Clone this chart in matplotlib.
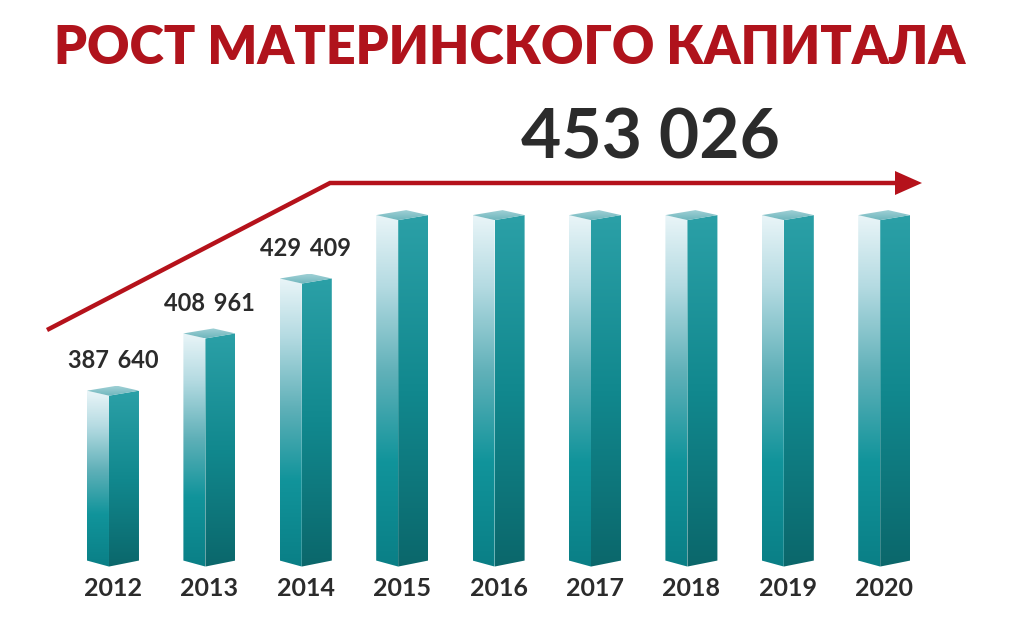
import matplotlib
matplotlib.use("Agg")
import matplotlib.pyplot as plt
import numpy as np
from matplotlib.colors import LinearSegmentedColormap
from matplotlib.patches import Polygon
import matplotlib.transforms as mtransforms

# ---- data ----
years = ["2012", "2013", "2014", "2015", "2016", "2017", "2018", "2019", "2020"]
values = [387640, 408961, 429409, 453026, 453026, 453026, 453026, 453026, 453026]
labeled = [True, True, True, False, False, False, False, False, False]
title = "РОСТ МАТЕРИНСКОГО КАПИТАЛА"

# ---- scales ----
W, H = 1024, 631
Y_MIN, Y_MAX = 300000, 535000
BASE = 324000
X_MIN, X_MAX = -1.172, 9.45

fig = plt.figure(figsize=(W / 100, H / 100), dpi=100)
fig.patch.set_facecolor("white")
ax = fig.add_axes([0, 0, 1, 1])
ax.set_xlim(X_MIN, X_MAX)
ax.set_ylim(Y_MIN, Y_MAX)
ax.axis("off")

px_x = (X_MAX - X_MIN) / W   # data units per pixel (x)
px_y = (Y_MAX - Y_MIN) / H   # data units per pixel (y)

left_cmap = LinearSegmentedColormap.from_list(
    "l", [(0.0, "#0a7f86"), (0.3, "#11949b"), (0.55, "#5fb0b8"), (0.8, "#b5dbe2"), (1.0, "#e9f5f8")])
right_cmap = LinearSegmentedColormap.from_list(
    "r", [(0.0, "#0b676b"), (0.5, "#11888e"), (1.0, "#2ba0a7")])
top_cmap = LinearSegmentedColormap.from_list("t", ["#6fb6bd", "#9fd0d5"])

grad = np.linspace(0, 1, 256).reshape(-1, 1)


def face(verts, cmap, ybot, ytop):
    poly = Polygon(verts, closed=True, facecolor="none", edgecolor="none")
    ax.add_patch(poly)
    xs = [v[0] for v in verts]
    im = ax.imshow(grad, cmap=cmap, origin="lower", aspect="auto",
                   extent=(min(xs), max(xs), ybot, ytop), interpolation="bilinear", zorder=2)
    im.set_clip_path(poly)


bw_half = 26 * px_x
front_off = 22 * px_x
side_up = 5 * px_y
back_up = 10 * px_y
bot_up = 6 * px_y

for i, v in enumerate(values):
    L = i - bw_half
    R = i + bw_half
    F = L + front_off
    Bk = L + R - F
    yt = v
    ys = v + side_up
    yb = BASE
    ysb = BASE + bot_up
    face([(L, ysb), (F, yb), (F, yt), (L, ys)], left_cmap, yb, ys)
    face([(F, yb), (R, ysb), (R, ys), (F, yt)], right_cmap, yb, ys)
    face([(L, ys), (F, yt), (R, ys), (Bk, v + back_up)], top_cmap, yt, v + back_up)

    if labeled[i]:
        ax.annotate(f"{v:,}".replace(",", "\u2009 "), (i, v), xytext=(0, 25), textcoords="offset points",
                    ha="center", va="center", fontsize=17, fontweight="bold",
                    family=["Lato", "DejaVu Sans"], color="#2b2b2b")

# year labels
trans = mtransforms.blended_transform_factory(ax.transData, ax.transAxes)
for i, y in enumerate(years):
    ax.text(i, 1 - 588 / H, y, transform=trans, ha="center", va="center",
            fontsize=18, fontweight="bold", family="Lato", color="#2b2b2b")

# title
fig.text(510 / W, 1 - 49 / H, title, ha="center", va="center", fontsize=37.5,
         fontweight="heavy", family="Lato", color="#b0131c")

# big value
fig.text(650 / W, 1 - 139 / H, f"{values[-1]:,}".replace(",", " "), ha="center", va="center",
         fontsize=50, fontweight="bold", family="Lato", color="#2b2b2b")

# arrow (decoration)
red = "#b5121b"
pts_x = np.array([47, 330, 898]) / W
pts_y = 1 - np.array([330, 183, 183]) / H
fig.add_artist(plt.Line2D(pts_x, pts_y, color=red, lw=3.2, solid_capstyle="butt",
                          solid_joinstyle="miter", transform=fig.transFigure))
tri = Polygon([(895 / W, 1 - 171 / H), (922 / W, 1 - 183 / H), (895 / W, 1 - 195 / H)],
              closed=True, facecolor=red, edgecolor="none", transform=fig.transFigure)
fig.add_artist(tri)

fig.savefig("out.png", dpi=100, facecolor="white")
